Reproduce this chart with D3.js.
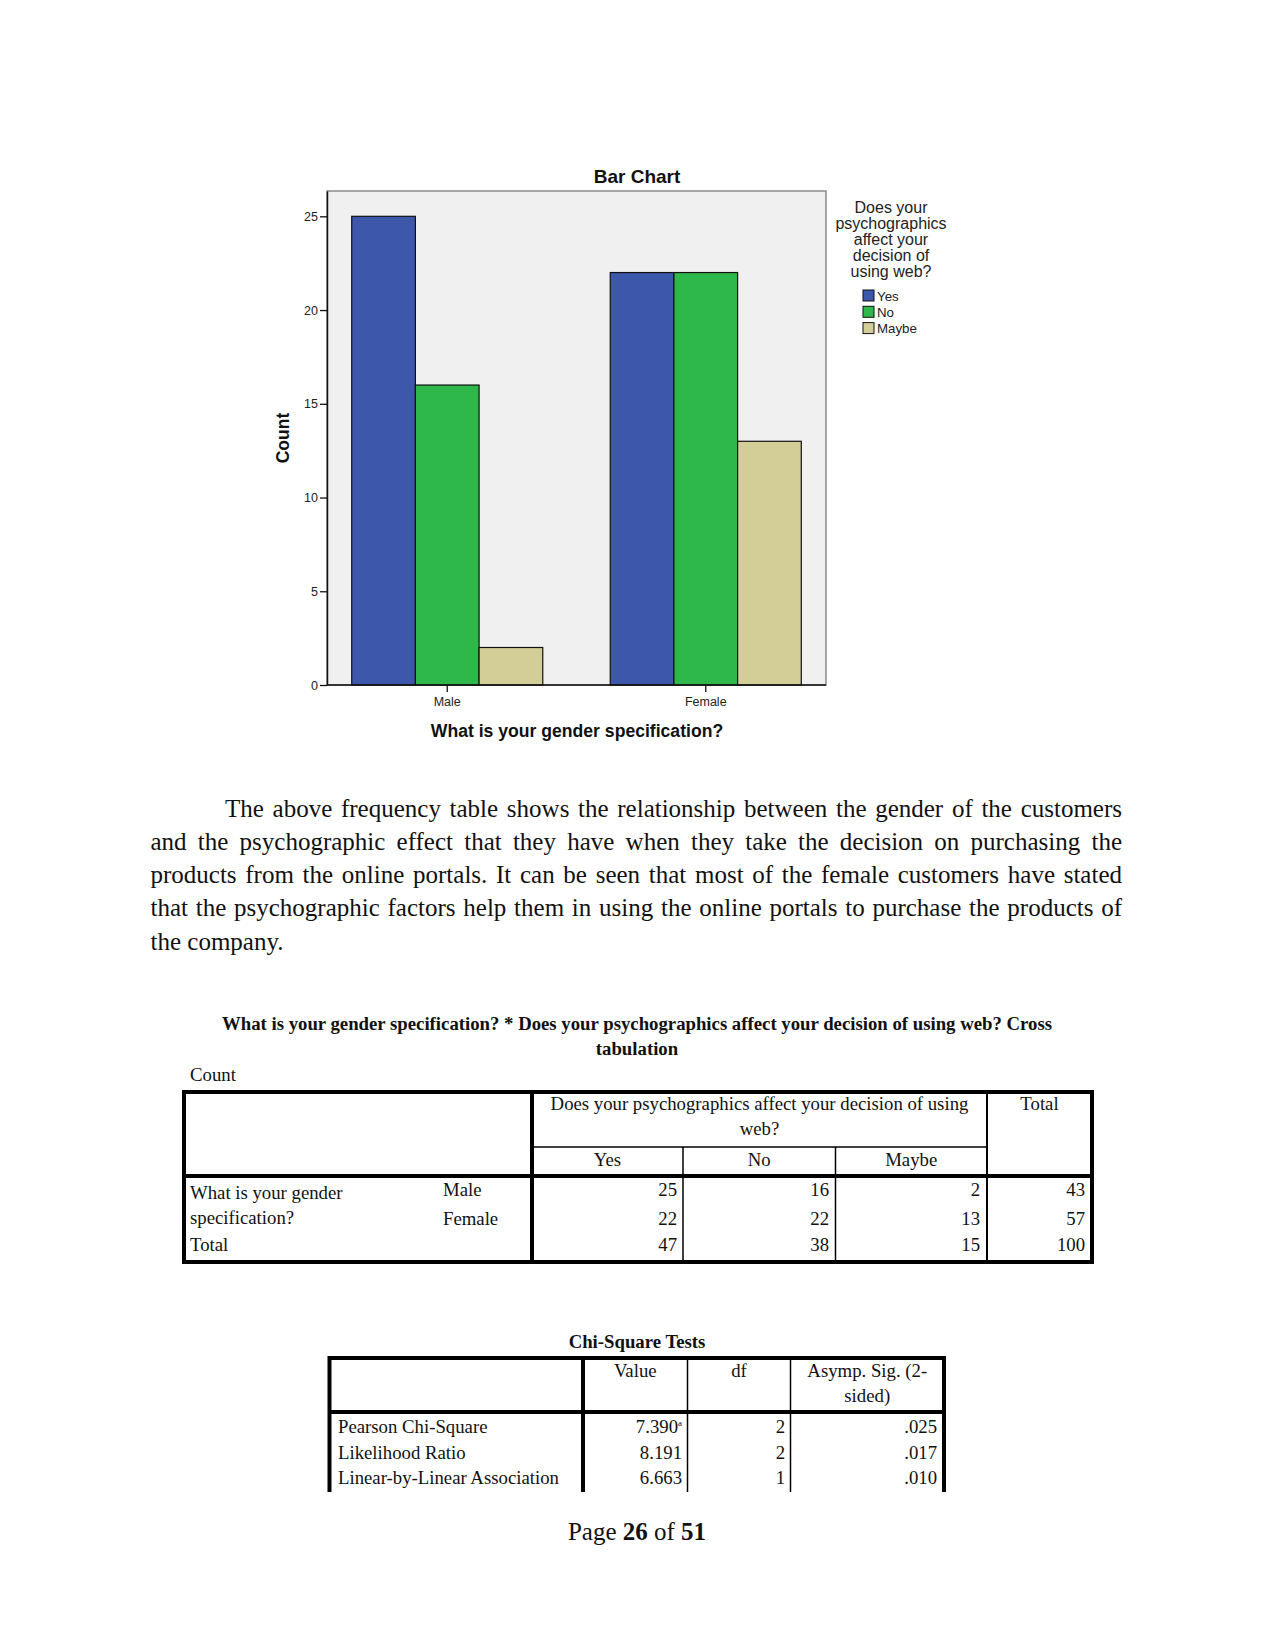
<!DOCTYPE html>
<html>
<head>
<meta charset="utf-8">
<script src="https://cdn.jsdelivr.net/npm/d3@7"></script>
<style>
  html, body { margin: 0; padding: 0; background: #fff; }
  svg { display: block; }
</style>
</head>
<body>
<script>
// ---------------- DATA ----------------
const categories = ["Male", "Female"];
const responses = ["Yes", "No", "Maybe"];
const yesValues = [25, 22];
const noValues = [16, 22];
const maybeValues = [2, 13];
const yTicks = [0, 5, 10, 15, 20, 25];
const responseColors = ["#3d57ab", "#2eb84a", "#d3ce98"];

const chartTitle = "Bar Chart";
const xAxisTitle = "What is your gender specification?";
const yAxisTitle = "Count";
const legendTitleLines = ["Does your", "psychographics", "affect your", "decision of", "using web?"];

const paraLines = [
  "The above frequency table shows the relationship between the gender of the customers",
  "and the psychographic effect that they have when they take the decision on purchasing the",
  "products from the online portals. It can be seen that most of the female customers have stated",
  "that the psychographic factors help them in using the online portals to purchase the products of",
  "the company."
];

const crossTitle1 = "What is your gender specification? * Does your psychographics affect your decision of using web? Cross";
const crossTitle2 = "tabulation";
const crossHeadLines = ["Does your psychographics affect your decision of using", "web?"];
const crossRowLabels = [["What is your gender", "Male"], ["specification?", "Female"], ["Total", ""]];
const crossYes = [25, 22, 47];
const crossNo = [16, 22, 38];
const crossMaybe = [2, 13, 15];
const crossTotal = [43, 57, 100];

const chiTitle = "Chi-Square Tests";
const chiHeaders = ["Value", "df"];
const chiSigHeader = ["Asymp. Sig. (2-", "sided)"];
const chiTests = ["Pearson Chi-Square", "Likelihood Ratio", "Linear-by-Linear Association"];
const chiValues = ["7.390", "8.191", "6.663"];
const chiValueNotes = ["a", "", ""];
const chiDf = [2, 2, 1];
const chiSig = [".025", ".017", ".010"];

// ---------------- PAGE ----------------
const W = 1275, H = 1651;
const svg = d3.select("body").append("svg").attr("width", W).attr("height", H);
svg.append("rect").attr("width", W).attr("height", H).attr("fill", "#fff");

const sans = "'Liberation Sans', Arial, sans-serif";
const serif = "'Liberation Serif', 'Times New Roman', serif";

// ---------------- BAR CHART ----------------
const plot = { left: 327, right: 826, top: 191, bottom: 685 };
const x = d3.scaleBand().domain(categories).range([plot.left, plot.right])
  .paddingInner(0.261).paddingOuter(0.0956);
const xSub = d3.scaleBand().domain(responses).range([0, x.bandwidth()]);
const y = d3.scaleLinear().domain([0, 26.35]).range([plot.bottom, plot.top]);

const chart = svg.append("g");
chart.append("rect")
  .attr("x", plot.left).attr("y", plot.top)
  .attr("width", plot.right - plot.left).attr("height", plot.bottom - plot.top)
  .attr("fill", "#f0f0f0").attr("stroke", "#8a8a8a").attr("stroke-width", 1.5);

const seriesValues = [yesValues, noValues, maybeValues];
const barData = [];
categories.forEach((c, ci) => {
  responses.forEach((r, ri) => barData.push({ cat: c, resp: r, ri, value: seriesValues[ri][ci] }));
});

chart.selectAll("rect.bar").data(barData).enter().append("rect")
  .attr("class", "bar")
  .attr("x", d => x(d.cat) + xSub(d.resp))
  .attr("y", d => y(d.value))
  .attr("width", xSub.bandwidth())
  .attr("height", d => y(0) - y(d.value))
  .attr("fill", d => responseColors[d.ri])
  .attr("stroke", "#111").attr("stroke-width", 1.2);

const yAxis = chart.append("g").attr("transform", `translate(${plot.left},0)`)
  .call(d3.axisLeft(y).tickValues(yTicks).tickSize(7).tickSizeOuter(0).tickPadding(2));
const xAxis = chart.append("g").attr("transform", `translate(0,${plot.bottom})`)
  .call(d3.axisBottom(x).tickSize(7).tickSizeOuter(0).tickPadding(5));
[yAxis, xAxis].forEach(a => {
  a.select(".domain").attr("stroke", "#111").attr("stroke-width", 1.5);
  a.selectAll(".tick line").attr("stroke", "#111").attr("stroke-width", 1.3);
  a.selectAll(".tick text").attr("font-family", sans).attr("font-size", 12.5).attr("fill", "#222");
});
xAxis.select(".domain").attr("d", `M${plot.left},0H${plot.right}`);

chart.append("text").attr("x", 637).attr("y", 183).attr("text-anchor", "middle")
  .attr("font-family", sans).attr("font-weight", "bold").attr("font-size", 19).attr("fill", "#111")
  .text(chartTitle);
chart.append("text").attr("x", 577).attr("y", 737).attr("text-anchor", "middle")
  .attr("font-family", sans).attr("font-weight", "bold").attr("font-size", 17.6).attr("fill", "#111")
  .text(xAxisTitle);
chart.append("text").attr("transform", "translate(289,438) rotate(-90)").attr("text-anchor", "middle")
  .attr("font-family", sans).attr("font-weight", "bold").attr("font-size", 17.5).attr("fill", "#111")
  .text(yAxisTitle);

// legend
const legend = chart.append("g");
legend.selectAll("text.lt").data(legendTitleLines).enter().append("text")
  .attr("class", "lt").attr("x", 891).attr("y", (d, i) => 212.5 + i * 16)
  .attr("text-anchor", "middle").attr("font-family", sans).attr("font-size", 16)
  .attr("fill", "#222").text(d => d);
const li = legend.selectAll("g.li").data(responses).enter().append("g")
  .attr("class", "li").attr("transform", (d, i) => `translate(863,${290 + i * 16.3})`);
li.append("rect").attr("width", 11).attr("height", 11)
  .attr("fill", (d, i) => responseColors[i]).attr("stroke", "#111").attr("stroke-width", 1);
li.append("text").attr("x", 14).attr("y", 10.5).attr("font-family", sans).attr("font-size", 13.3)
  .attr("fill", "#222").text(d => d);

// ---------------- PARAGRAPH ----------------
const para = svg.append("g").attr("font-family", serif).attr("font-size", 25).attr("fill", "#111");
const paraLeft = 150.5, paraRight = 1122, paraIndent = 225;
const paraBase = [817, 850, 883, 916, 950];
paraLines.forEach((line, li2) => {
  const startX = li2 === 0 ? paraIndent : paraLeft;
  const words = line.split(" ");
  const g = para.append("g");
  const nodes = words.map(w => g.append("text").attr("y", paraBase[li2]).text(w));
  const widths = nodes.map(n => n.node().getComputedTextLength());
  const last = li2 === paraLines.length - 1;
  let gap;
  if (last) {
    const sp = g.append("text").text("a a");
    const sp2 = g.append("text").text("aa");
    gap = sp.node().getComputedTextLength() - sp2.node().getComputedTextLength();
    sp.remove(); sp2.remove();
  } else {
    gap = (paraRight - startX - d3.sum(widths)) / (words.length - 1);
  }
  let cx = startX;
  nodes.forEach((n, i) => { n.attr("x", cx); cx += widths[i] + gap; });
});

// ---------------- CROSSTAB ----------------
const tf = 18.75;
const ct = svg.append("g").attr("font-family", serif).attr("font-size", tf).attr("fill", "#111");
ct.append("text").attr("x", 637).attr("y", 1030).attr("text-anchor", "middle").attr("font-weight", "bold").text(crossTitle1);
ct.append("text").attr("x", 637).attr("y", 1055).attr("text-anchor", "middle").attr("font-weight", "bold").text(crossTitle2);
ct.append("text").attr("x", 190).attr("y", 1081).text("Count");

const T = { l: 184, r: 1092, t: 1092, mid: 1147, hb: 1176, b: 1262 };
const colX = [532, 683, 835.5, 987];
function line(g, x1, y1, x2, y2, w) {
  g.append("line").attr("x1", x1).attr("y1", y1).attr("x2", x2).attr("y2", y2)
    .attr("stroke", "#000").attr("stroke-width", w);
}
line(ct, colX[0], T.mid, colX[3], T.mid, 1.5);
line(ct, colX[1], T.mid, colX[1], T.b, 1.5);
line(ct, colX[2], T.mid, colX[2], T.b, 1.5);
line(ct, colX[3], T.t, colX[3], T.b, 2);
line(ct, T.l, T.hb, T.r, T.hb, 4);
line(ct, colX[0], T.t, colX[0], T.b, 4);
ct.append("rect").attr("x", T.l).attr("y", T.t).attr("width", T.r - T.l).attr("height", T.b - T.t)
  .attr("fill", "none").attr("stroke", "#000").attr("stroke-width", 4);

const headCenter = (colX[0] + colX[3]) / 2;
crossHeadLines.forEach((t, i) => ct.append("text").attr("x", headCenter).attr("y", 1110 + i * 25)
  .attr("text-anchor", "middle").text(t));
ct.append("text").attr("x", (colX[3] + T.r) / 2).attr("y", 1110).attr("text-anchor", "middle").text("Total");
const subCenters = [(colX[0] + colX[1]) / 2, (colX[1] + colX[2]) / 2, (colX[2] + colX[3]) / 2];
responses.forEach((r, i) => ct.append("text").attr("x", subCenters[i]).attr("y", 1165.5)
  .attr("text-anchor", "middle").text(r));

const rowBase = [1196, 1225, 1251];
const rowLabelBase = [1199, 1224, 1251];
crossRowLabels.forEach((r, i) => {
  ct.append("text").attr("x", 190).attr("y", rowLabelBase[i]).text(r[0]);
  if (r[1]) ct.append("text").attr("x", 443).attr("y", rowBase[i]).text(r[1]);
});
const numRight = [677, 829, 980, 1085];
[crossYes, crossNo, crossMaybe, crossTotal].forEach((arr, ci) => {
  arr.forEach((v, ri) => ct.append("text").attr("x", numRight[ci]).attr("y", rowBase[ri])
    .attr("text-anchor", "end").text(v));
});

// ---------------- CHI-SQUARE ----------------
const cs = svg.append("g").attr("font-family", serif).attr("font-size", tf).attr("fill", "#111");
cs.append("text").attr("x", 637).attr("y", 1348).attr("text-anchor", "middle").attr("font-weight", "bold").text(chiTitle);
const C = { l: 329.5, r: 944, t: 1358, hb: 1412, b: 1492 };
const cCols = [583, 687.5, 790.5];
line(cs, C.l, C.t, C.r, C.t, 4);
line(cs, C.l, C.hb, C.r, C.hb, 4);
line(cs, C.l, C.t - 2, C.l, C.b, 4);
line(cs, C.r, C.t - 2, C.r, C.b, 4);
line(cs, cCols[0], C.t, cCols[0], C.b, 4);
line(cs, cCols[1], C.t, cCols[1], C.b, 1.5);
line(cs, cCols[2], C.t, cCols[2], C.b, 1.5);
const chiHeadCenters = [(cCols[0] + cCols[1]) / 2, (cCols[1] + cCols[2]) / 2];
chiHeaders.forEach((h, i) => cs.append("text").attr("x", chiHeadCenters[i]).attr("y", 1377)
  .attr("text-anchor", "middle").text(h));
chiSigHeader.forEach((h, i) => cs.append("text").attr("x", (cCols[2] + C.r) / 2).attr("y", 1377 + i * 25)
  .attr("text-anchor", "middle").text(h));
const chiBase = [1433, 1458.5, 1484];
chiTests.forEach((t, i) => {
  cs.append("text").attr("x", 338).attr("y", chiBase[i]).text(t);
  const vt = cs.append("text").attr("x", 682).attr("y", chiBase[i]).attr("text-anchor", "end");
  vt.append("tspan").text(chiValues[i]);
  if (chiValueNotes[i]) vt.append("tspan").attr("font-size", 9).attr("dy", -7).text(chiValueNotes[i]);
  cs.append("text").attr("x", 785).attr("y", chiBase[i]).attr("text-anchor", "end").text(chiDf[i]);
  cs.append("text").attr("x", 937).attr("y", chiBase[i]).attr("text-anchor", "end").text(chiSig[i]);
});

// ---------------- FOOTER ----------------
const ft = svg.append("text").attr("x", 637).attr("y", 1540).attr("text-anchor", "middle")
  .attr("font-family", serif).attr("font-size", 25).attr("fill", "#111");
ft.append("tspan").text("Page ");
ft.append("tspan").attr("font-weight", "bold").text("26");
ft.append("tspan").text(" of ");
ft.append("tspan").attr("font-weight", "bold").text("51");
</script>
</body>
</html>
